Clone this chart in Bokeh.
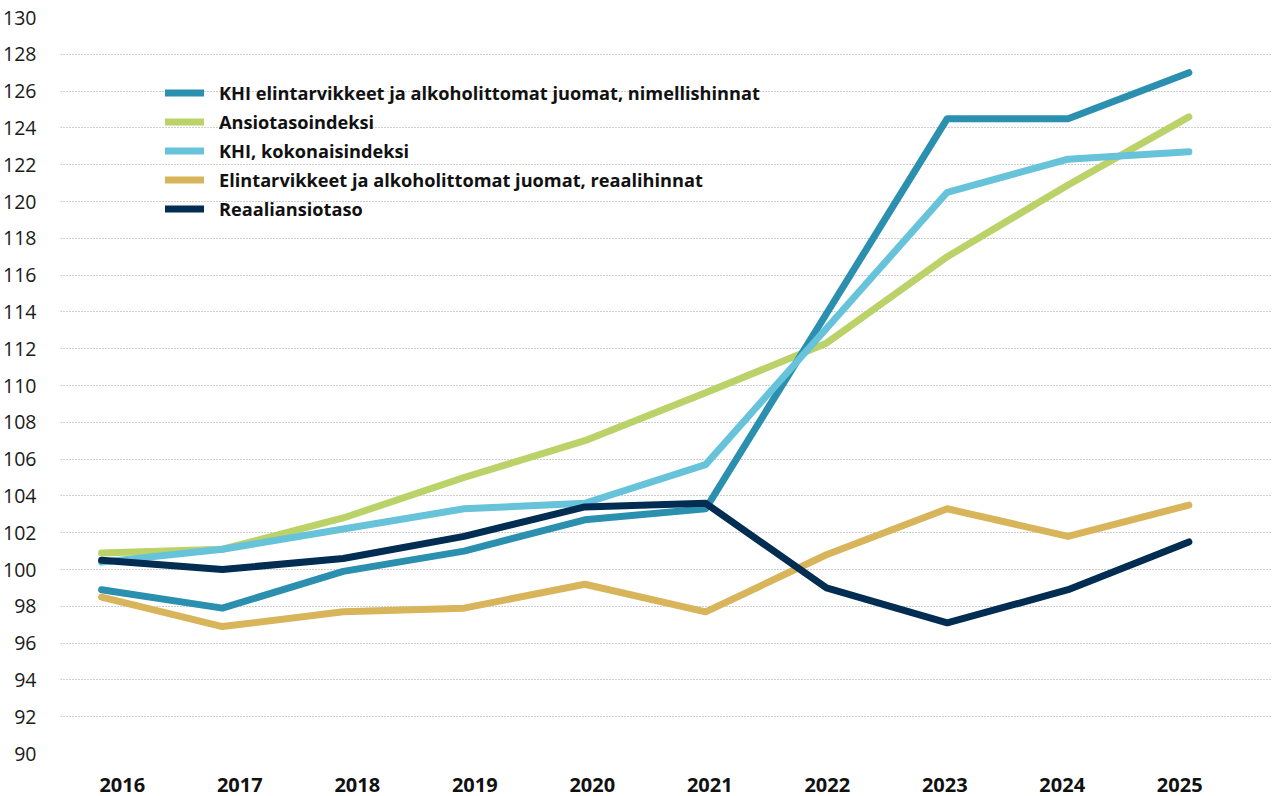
from bokeh.plotting import figure
from bokeh.models import Range1d, LinearAxis, FixedTicker, Legend, LegendItem
from bokeh.core.properties import value
from bokeh.embed import file_html
from bokeh.resources import INLINE

years = [2016, 2017, 2018, 2019, 2020, 2021, 2022, 2023, 2024, 2025]
khi_food_nominal = [98.9, 97.9, 99.9, 101.0, 102.7, 103.3, 113.9, 124.5, 124.5, 127.0]
earnings_index = [100.9, 101.1, 102.8, 105.0, 107.0, 109.6, 112.3, 117.0, 120.9, 124.6]
khi_total = [100.4, 101.1, 102.2, 103.3, 103.6, 105.7, 113.1, 120.5, 122.3, 122.7]
food_real = [98.5, 96.9, 97.7, 97.9, 99.2, 97.7, 100.8, 103.3, 101.8, 103.5]
real_earnings = [100.5, 100.0, 100.6, 101.8, 103.4, 103.6, 99.0, 97.1, 98.9, 101.5]

labels = [
    "KHI elintarvikkeet ja alkoholittomat juomat, nimellishinnat",
    "Ansiotasoindeksi",
    "KHI, kokonaisindeksi",
    "Elintarvikkeet ja alkoholittomat juomat, reaalihinnat",
    "Reaaliansiotaso",
]
y_ticks = list(range(90, 131, 2))

C_TEAL = "#2B90AF"
C_GREEN = "#BAD267"
C_LBLUE = "#67C3DA"
C_GOLD = "#D8B55B"
C_NAVY = "#002D51"

p = figure(width=1271, height=796, output_backend="svg", toolbar_location=None,
           x_range=Range1d(2015.66, 2025.684), y_range=Range1d(90, 130),
           x_axis_location=None,
           min_border_left=55, min_border_right=0, min_border_top=17, min_border_bottom=43)
p.outline_line_color = None
p.background_fill_color = "white"
p.border_fill_color = "white"

p.extra_x_ranges = {"lab": Range1d(2015.474, 2025.781)}
xaxis = LinearAxis(x_range_name="lab", ticker=FixedTicker(ticks=years))
xaxis.axis_line_color = None
xaxis.major_tick_line_color = None
xaxis.minor_tick_line_color = None
xaxis.major_label_text_font = "Open Sans"
xaxis.major_label_text_font_style = "bold"
xaxis.major_label_text_font_size = "20px"
xaxis.major_label_text_color = "#111111"
xaxis.major_label_standoff = 18
p.add_layout(xaxis, "below")

p.xgrid.visible = False
p.yaxis.ticker = FixedTicker(ticks=y_ticks)
p.yaxis.axis_line_color = None
p.yaxis.major_tick_line_color = None
p.yaxis.minor_tick_line_color = None
p.yaxis.major_label_text_font = "Open Sans"
p.yaxis.major_label_text_font_size = "19.5px"
p.yaxis.major_label_text_color = "#1a1a1a"
p.yaxis.major_label_standoff = 18
p.ygrid.ticker = FixedTicker(ticks=y_ticks)
p.ygrid.grid_line_color = "#9a9a9a"
p.ygrid.grid_line_dash = "1 2"
p.ygrid.grid_line_width = 1

kw = dict(line_width=7, line_cap="round", line_join="round")
r_green = p.line(years, earnings_index, color=C_GREEN, **kw)
r_teal = p.line(years, khi_food_nominal, color=C_TEAL, **kw)
r_lblue = p.line(years, khi_total, color=C_LBLUE, **kw)
r_gold = p.line(years, food_real, color=C_GOLD, **kw)
r_navy = p.line(years, real_earnings, color=C_NAVY, **kw)

items = [
    LegendItem(label=value(labels[0]), renderers=[r_teal]),
    LegendItem(label=value(labels[1]), renderers=[r_green]),
    LegendItem(label=value(labels[2]), renderers=[r_lblue]),
    LegendItem(label=value(labels[3]), renderers=[r_gold]),
    LegendItem(label=value(labels[4]), renderers=[r_navy]),
]
legend = Legend(items=items, location=(105, 530), orientation="vertical",
                glyph_width=39, glyph_height=29, label_height=29, spacing=0,
                padding=0, margin=0, label_standoff=15,
                label_text_font="Open Sans", label_text_font_style="bold",
                label_text_font_size="18.2px", label_text_color="#111111",
                border_line_alpha=0, background_fill_alpha=0)
p.add_layout(legend)

open("out.html", "w").write(file_html(p, INLINE))
